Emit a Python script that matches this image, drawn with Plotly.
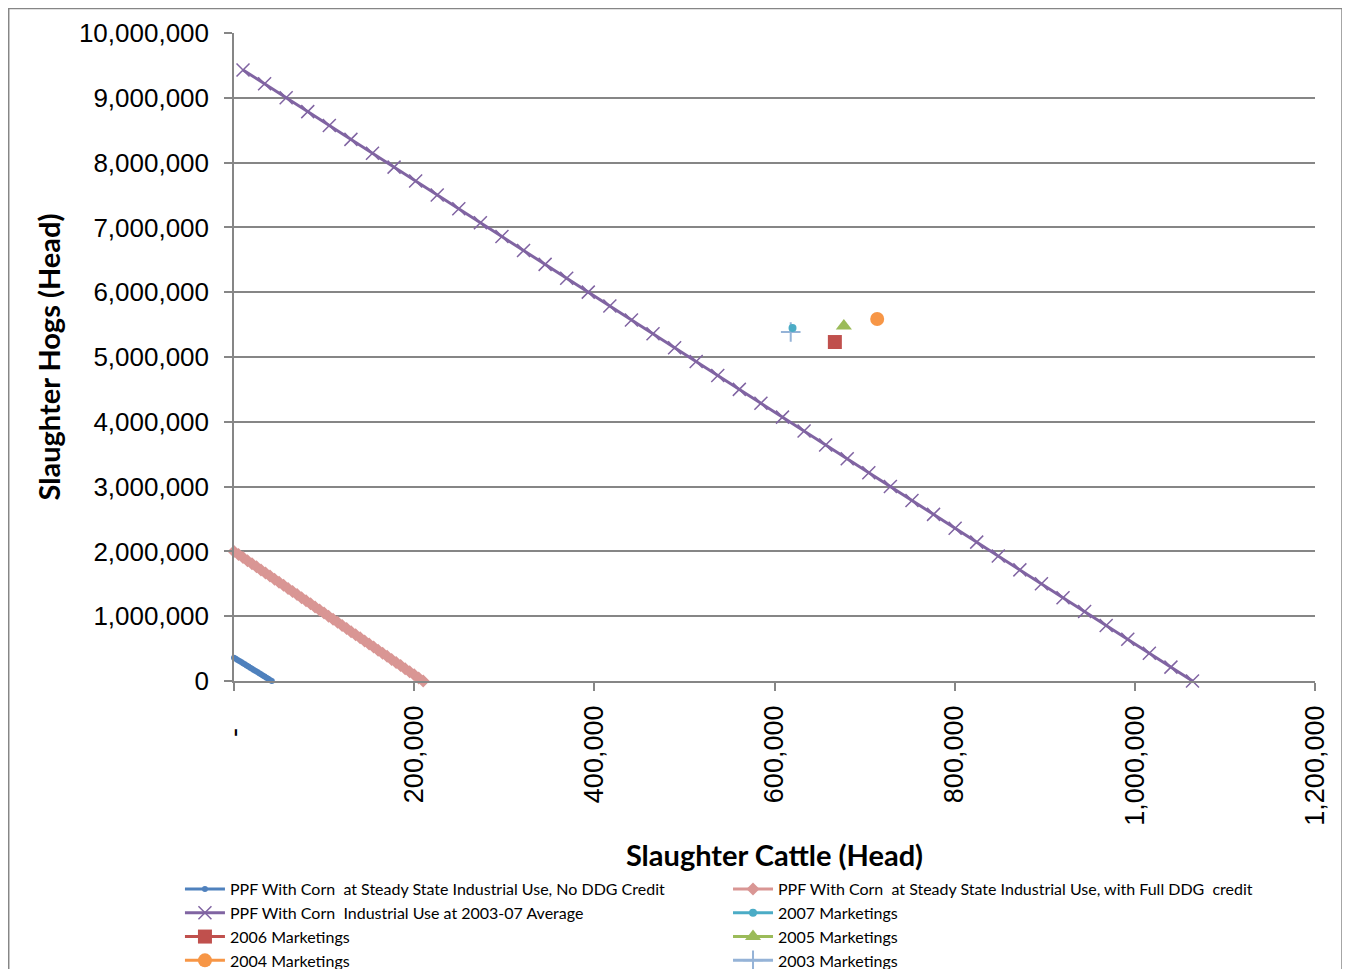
import plotly.graph_objects as go

# ---------------- data ----------------
blue_x = [0, 2000, 4000, 6000, 8000, 10000, 12000, 14000, 16000, 18000, 20000,
          22000, 24000, 26000, 28000, 30000, 32000, 34000, 36000, 38000, 40000, 42000]
blue_y = [360000, 342857, 325714, 308571, 291429, 274286, 257143, 240000, 222857,
          205714, 188571, 171429, 154286, 137143, 120000, 102857, 85714, 68571,
          51429, 34286, 17143, 0]

pink_x = [0, 5000, 10000, 15000, 20000, 25000, 30000, 35000, 40000, 45000, 50000,
          55000, 60000, 65000, 70000, 75000, 80000, 85000, 90000, 95000, 100000,
          105000, 110000, 115000, 120000, 125000, 130000, 135000, 140000, 145000,
          150000, 155000, 160000, 165000, 170000, 175000, 180000, 185000, 190000,
          195000, 200000, 205000, 210000]
pink_y = [2000000, 1952381, 1904762, 1857143, 1809524, 1761905, 1714286, 1666667,
          1619048, 1571429, 1523810, 1476190, 1428571, 1380952, 1333333, 1285714,
          1238095, 1190476, 1142857, 1095238, 1047619, 1000000, 952381, 904762,
          857143, 809524, 761905, 714286, 666667, 619048, 571429, 523810, 476190,
          428571, 380952, 333333, 285714, 238095, 190476, 142857, 95238, 47619, 0]

purple_x = [10000, 33955, 57910, 81865, 105820, 129775, 153730, 177685, 201640,
            225595, 249550, 273505, 297460, 321415, 345370, 369325, 393280, 417235,
            441190, 465145, 489100, 513055, 537010, 560965, 584920, 608875, 632830,
            656785, 680740, 704695, 728650, 752605, 776560, 800515, 824470, 848425,
            872380, 896335, 920290, 944245, 968200, 992155, 1016110, 1040065, 1064020]
purple_y = [9430000, 9215682, 9001364, 8787045, 8572727, 8358409, 8144091, 7929773,
            7715455, 7501136, 7286818, 7072500, 6858182, 6643864, 6429545, 6215227,
            6000909, 5786591, 5572273, 5357955, 5143636, 4929318, 4715000, 4500682,
            4286364, 4072045, 3857727, 3643409, 3429091, 3214773, 3000455, 2786136,
            2571818, 2357500, 2143182, 1928864, 1714545, 1500227, 1285909, 1071591,
            857273, 642955, 428636, 214318, 0]

market_names = ["2007 Marketings", "2006 Marketings", "2005 Marketings",
                "2004 Marketings", "2003 Marketings"]
market_cattle = [620000, 667000, 677000, 714000, 618000]
market_hogs = [5447000, 5231000, 5478000, 5586000, 5386000]

x_tickvals = [0, 200000, 400000, 600000, 800000, 1000000, 1200000]
x_ticktext = ["-\u00a0\u00a0\u00a0", "200,000", "400,000", "600,000", "800,000",
              "1,000,000", "1,200,000"]
y_tickvals = [0, 1000000, 2000000, 3000000, 4000000, 5000000, 6000000, 7000000,
              8000000, 9000000, 10000000]
y_ticktext = ["0", "1,000,000", "2,000,000", "3,000,000", "4,000,000", "5,000,000",
              "6,000,000", "7,000,000", "8,000,000", "9,000,000", "10,000,000"]

# ---------------- styles ----------------
market_colors = ["#4BACC6", "#C0504D", "#9BBB59", "#F79646", "#95B3D7"]
market_symbols = ["circle", "square", "triangle-up", "circle", "cross-thin"]
market_sizes = [8, 14, 14, 14, 14]
# legend column and row rank of each marketing year
market_legend = ["legend2", "legend", "legend2", "legend", "legend2"]
market_rank = [2, 3, 3, 4, 4]

fig = go.Figure()

fig.add_trace(go.Scatter(
    x=blue_x, y=blue_y, mode="lines+markers",
    name="PPF With Corn  at Steady State Industrial Use, No DDG Credit",
    line=dict(color="#4F81BD", width=3),
    marker=dict(symbol="circle", size=6, color="#4F81BD"),
    cliponaxis=False, legend="legend", legendrank=1))

fig.add_trace(go.Scatter(
    x=pink_x, y=pink_y, mode="lines+markers",
    name="PPF With Corn  at Steady State Industrial Use, with Full DDG  credit",
    line=dict(color="#D99694", width=3),
    marker=dict(symbol="diamond", size=10, color="#D99694"),
    cliponaxis=False, legend="legend2", legendrank=1))

fig.add_trace(go.Scatter(
    x=purple_x, y=purple_y, mode="lines+markers",
    name="PPF With Corn  Industrial Use at 2003-07 Average",
    line=dict(color="#8064A2", width=3),
    marker=dict(symbol="x-thin", size=13, color="#8064A2",
                line=dict(color="#8064A2", width=1.5)),
    cliponaxis=False, legend="legend", legendrank=2))

# draw 2003 first so the 2007 dot sits on top of the plus
draw_order = [4, 0, 1, 2, 3]
for k in draw_order:
    col = market_colors[k]
    sym = market_symbols[k]
    mk = dict(symbol=sym, size=market_sizes[k], color=col)
    if sym.endswith("thin"):
        mk["line"] = dict(color=col, width=2)
    fig.add_trace(go.Scatter(
        x=[market_cattle[k]], y=[market_hogs[k]], mode="lines+markers",
        name=market_names[k], line=dict(color=col, width=3), marker=mk,
        cliponaxis=False, legend=market_legend[k], legendrank=market_rank[k]))

axis_gray = "#868686"
legend_font = dict(family="Lato", size=16, color="#000000")
fig.update_layout(
    width=1350, height=969,
    margin=dict(l=226, r=43, t=25, b=296),
    paper_bgcolor="white", plot_bgcolor="white",
    showlegend=True,
    hovermode=False,
    legend=dict(
        orientation="v", xref="paper", x=-0.05, xanchor="left",
        yref="container", y=0.1083, yanchor="top", itemwidth=40,
        font=legend_font, traceorder="normal", bgcolor="rgba(0,0,0,0)",
    ),
    legend2=dict(
        orientation="v", xref="paper", x=0.457, xanchor="left",
        yref="container", y=0.1083, yanchor="top", itemwidth=40,
        font=legend_font, traceorder="normal", bgcolor="rgba(0,0,0,0)",
    ),
    xaxis=dict(
        range=[0, 1200000], tickvals=x_tickvals, ticktext=x_ticktext,
        tickangle=-90, showgrid=False, zeroline=False, automargin=False,
        showline=True, linecolor=axis_gray, linewidth=1.5,
        ticks="outside", ticklen=8, tickcolor=axis_gray, tickwidth=1.5,
        ticklabelstandoff=4,
        tickfont=dict(family="Liberation Sans", size=27, color="#000000"),
        title=dict(text="<b>Slaughter Cattle (Head)</b>",
                   font=dict(family="Lato", size=29, color="#000000"),
                   standoff=22),
    ),
    yaxis=dict(
        range=[0, 10000000], tickvals=y_tickvals, ticktext=y_ticktext,
        showgrid=True, gridcolor=axis_gray, gridwidth=1.5, zeroline=False,
        automargin=False,
        showline=True, linecolor=axis_gray, linewidth=1.5,
        ticks="outside", ticklen=8, tickcolor=axis_gray, tickwidth=1.5,
        ticklabelstandoff=10,
        tickfont=dict(family="Liberation Sans", size=26, color="#000000"),
        title=dict(text="<b>Slaughter Hogs (Head)</b>",
                   font=dict(family="Lato", size=29, color="#000000"),
                   standoff=10),
    ),
    shapes=[dict(type="rect", xref="paper", yref="paper",
                 x0=-0.2084, x1=1.0250, y0=-0.46, y1=1.0378,
                 line=dict(color=axis_gray, width=1.5), layer="below")],
)

fig.write_html("out.html")
